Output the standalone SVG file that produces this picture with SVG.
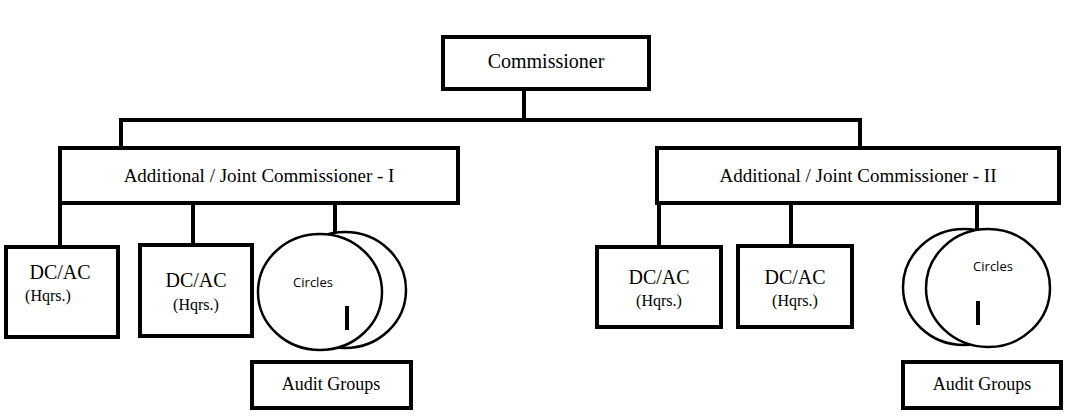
<svg xmlns="http://www.w3.org/2000/svg" width="1075" height="418" viewBox="0 0 1075 418">
<style>
.b{fill:#fff;stroke:#000;stroke-width:4}
.c{fill:#fff;stroke:#000;stroke-width:2.5}
.l{stroke:#000;stroke-width:4;fill:none}
text{font-family:"Liberation Serif",serif;fill:#000;text-anchor:middle}
.s{font-family:"Open Sans","Liberation Sans",sans-serif;font-size:13px}
</style>
<rect width="1075" height="418" fill="#fff"/>
<g id="connectors">
<path class="l" d="M524 89V120M121 120H860M121 118V148M860 118V148"/>
<path class="l" d="M60 203V254M193 203V244M335 203V237"/>
<path class="l" d="M659 203V246M791 203V245M977 203V230"/>
</g>
<g id="commissioner"><rect class="b" x="443" y="37" width="206" height="52"/><text x="546" y="68" font-size="20">Commissioner</text></g>
<g id="ajc1"><rect class="b" x="60" y="148" width="398" height="55"/><text x="259" y="182" font-size="19">Additional / Joint Commissioner - I</text></g>
<g id="ajc2"><rect class="b" x="657" y="148" width="402" height="55"/><text x="858" y="182" font-size="19">Additional / Joint Commissioner - II</text></g>
<g id="dc1"><rect class="b" x="6" y="247" width="112" height="90"/><text x="60" y="279" font-size="20">DC/AC</text><text x="48" y="301" font-size="16">(Hqrs.)</text></g>
<g id="dc2"><rect class="b" x="140" y="245" width="112" height="91"/><text x="196" y="287" font-size="20">DC/AC</text><text x="196" y="310" font-size="16">(Hqrs.)</text></g>
<g id="circles1"><ellipse class="c" cx="345" cy="290" rx="61" ry="58"/><ellipse class="c" cx="320" cy="292" rx="62" ry="58"/><text class="s" x="313" y="287">Circles</text><path class="l" d="M347 306V330"/></g>
<g id="audit1"><rect class="b" x="252" y="362" width="159" height="46"/><text x="331" y="390" font-size="18">Audit Groups</text></g>
<g id="dc3"><rect class="b" x="597" y="247" width="124" height="80"/><text x="659" y="284" font-size="20">DC/AC</text><text x="659" y="306" font-size="16">(Hqrs.)</text></g>
<g id="dc4"><rect class="b" x="738" y="246" width="114" height="81"/><text x="795" y="284" font-size="20">DC/AC</text><text x="795" y="306" font-size="16">(Hqrs.)</text></g>
<g id="circles2"><ellipse class="c" cx="964" cy="287" rx="61" ry="58"/><ellipse class="c" cx="988" cy="288" rx="62" ry="59"/><text class="s" x="993" y="271">Circles</text><path class="l" d="M978 301V325"/></g>
<g id="audit2"><rect class="b" x="903" y="362" width="158" height="46"/><text x="982" y="390" font-size="18">Audit Groups</text></g>
</svg>
